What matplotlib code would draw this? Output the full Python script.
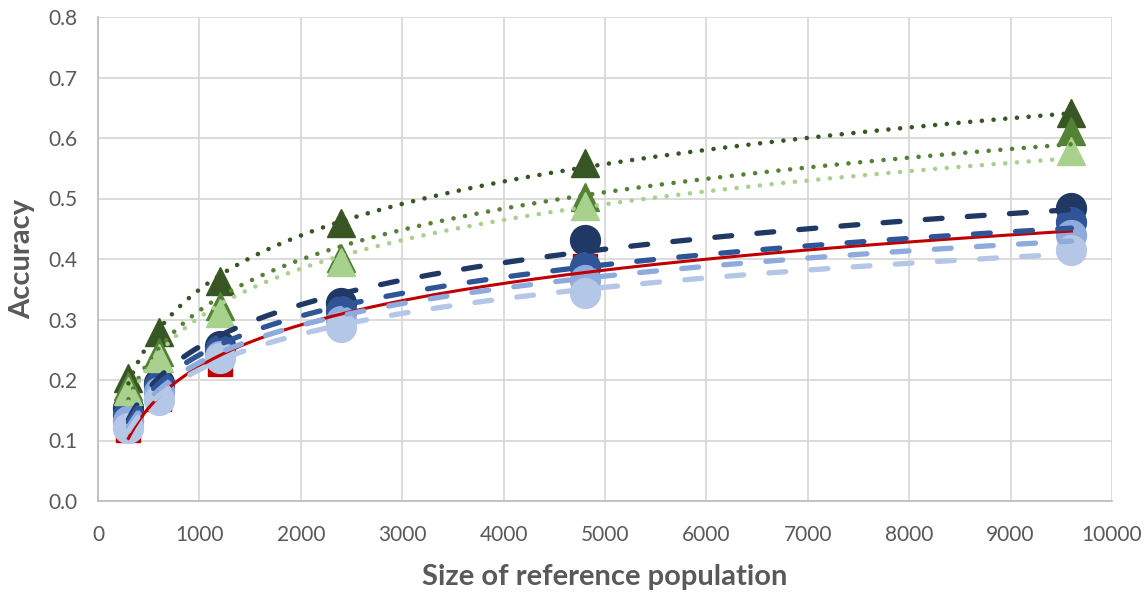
import numpy as np
from matplotlib import pyplot as plt

# reference population sizes
sizes = [300, 600, 1200, 2400, 4800, 9600]

# accuracy
tri_dark = [0.203, 0.280, 0.363, 0.460, 0.558, 0.642]
tri_mid = [0.190, 0.247, 0.322, 0.402, 0.502, 0.611]
tri_light = [0.182, 0.236, 0.311, 0.395, 0.488, 0.578]

circ_navy = [0.154, 0.195, 0.256, 0.328, 0.431, 0.484]
circ_blue = [0.142, 0.190, 0.250, 0.314, 0.386, 0.461]
circ_mid = [0.132, 0.180, 0.240, 0.298, 0.365, 0.440]
circ_light = [0.121, 0.167, 0.236, 0.288, 0.344, 0.415]

red_sq = [0.117, 0.168, 0.226, 0.300, 0.388, 0.450]

xticks = [0, 1000, 2000, 3000, 4000, 5000, 6000, 7000, 8000, 9000, 10000]
yticks = [0.0, 0.1, 0.2, 0.3, 0.4, 0.5, 0.6, 0.7, 0.8]

plt.rcParams['font.family'] = ['Lato', 'DejaVu Sans']

fig = plt.figure(figsize=(11.45, 5.92), dpi=100)
ax = fig.add_axes([98 / 1145, 1 - 501 / 592, (1112 - 98) / 1145, (501 - 17) / 592])

x = np.array(sizes, dtype=float)
xs = np.linspace(x.min(), x.max(), 300)


def trend(vals):
    '''logarithmic trendline like excel'''
    a, b = np.polyfit(np.log(x), vals, 1)
    return a * np.log(xs) + b


# red series with solid trendline
ax.plot(x, red_sq, linestyle='none', marker='s', markersize=17, color='#c00000', zorder=3)
ax.plot(xs, trend(red_sq), color='#c00000', linewidth=2.2, zorder=4)

# blue circles, dashed trendlines
for vals, col in [(circ_navy, '#1f3864'), (circ_blue, '#2f5597'),
                  (circ_mid, '#8faadc'), (circ_light, '#b4c7e7')]:
    ax.plot(x, vals, linestyle='none', marker='o', markersize=21.5, color=col, zorder=3)
    ax.plot(xs, trend(vals), color=col, linewidth=3.8, linestyle=(0, (3.2, 4.8)),
            dash_capstyle='round', zorder=4)

# green triangles, dotted trendlines
for vals, col in [(tri_dark, '#375623'), (tri_mid, '#548235'), (tri_light, '#a9d18e')]:
    ax.plot(x, vals, linestyle='none', marker='^', markersize=20, color=col, zorder=3)
    ax.plot(xs, trend(vals), color=col, linewidth=3.3, linestyle=(0, (0.01, 2.55)),
            dash_capstyle='round', zorder=4)

ax.set_xlim(0, 10000)
ax.set_ylim(0, 0.8)
ax.set_xticks(xticks)
ax.set_yticks(yticks)
ax.set_yticklabels(['%.1f' % v for v in yticks])
ax.grid(True, color='#d9d9d9', linewidth=1.3, zorder=0)
ax.set_axisbelow(True)
for s in ['top', 'right']:
    ax.spines[s].set_visible(False)
for s in ['left', 'bottom']:
    ax.spines[s].set_color('#bfbfbf')
    ax.spines[s].set_linewidth(1.3)
ax.tick_params(length=0, labelsize=15, labelcolor='#595959')
ax.tick_params(axis='x', pad=17)
ax.tick_params(axis='y', pad=15)
ax.set_xlabel('Size of reference population', fontsize=21, fontweight='bold', color='#595959', labelpad=14)
ax.set_ylabel('Accuracy', fontsize=21, fontweight='bold', color='#595959', labelpad=9)

fig.savefig('out.png', dpi=100)
